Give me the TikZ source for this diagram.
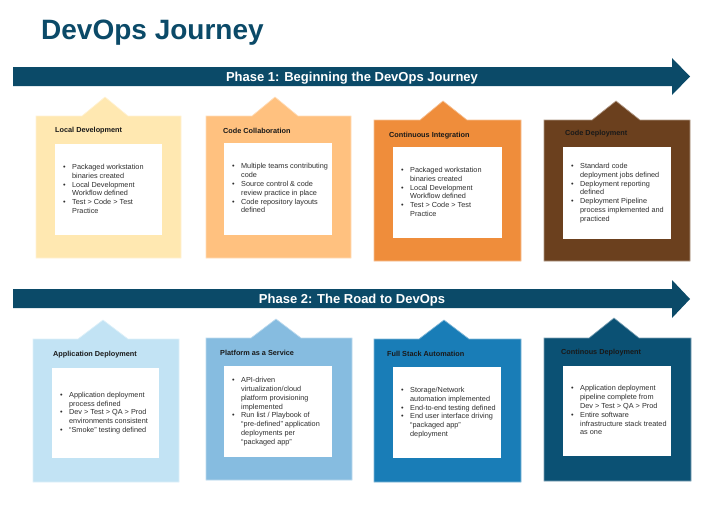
\documentclass[tikz,border=0pt]{standalone}
\usepackage{fontspec}
\setmainfont{Liberation Sans}
\definecolor{navy}{HTML}{0B4A68}
\definecolor{stA}{HTML}{FFE8B1}
\definecolor{stB}{HTML}{FFC17F}
\definecolor{stC}{HTML}{EF8D3B}
\definecolor{stD}{HTML}{6B401E}
\definecolor{stE}{HTML}{C2E3F4}
\definecolor{stF}{HTML}{86BCE0}
\definecolor{stG}{HTML}{197DB7}
\definecolor{stH}{HTML}{0B5174}
\newcommand\bl{\textbullet}
\newenvironment{blist}{\begin{tabular}{@{}l@{\hspace{6.4pt}}l@{}}}{\end{tabular}}
\begin{document}
\begin{tikzpicture}[x=1pt,y=-1pt,
  house/.style={fill=#1,draw=#1!55!white,line width=0.7pt,line join=miter},
  panel/.style={fill=white,draw=none,anchor=north west,inner sep=0pt},
  stitle/.style={anchor=west,inner sep=0pt,font=\fontsize{7.3}{8.8}\selectfont\bfseries,text=black!90},
  slist/.style={anchor=west,inner sep=0pt,xshift=8pt,font=\fontsize{7.3}{8.8}\selectfont,text=black!82},
  phase/.style={anchor=base,inner sep=0pt,font=\fontsize{13}{15}\selectfont\bfseries,text=white}]
\useasboundingbox (0,0) rectangle (709,525);

% heading
\node[anchor=base west,inner sep=0pt,font=\fontsize{28}{32}\selectfont\bfseries,text=navy] (title) at (41,39.5) {DevOps Journey};

% phase banners
\fill[navy] (13,67) -- (672,67) -- (672,58) -- (690,76.5) -- (672,95) -- (672,86) -- (13,86) -- cycle;
\node[phase] (phase1) at (352,81) {Phase 1: Beginning the DevOps Journey};
\fill[navy] (13,289) -- (672,289) -- (672,280) -- (690,299) -- (672,318) -- (672,308) -- (13,308) -- cycle;
\node[phase] (phase2) at (352,303) {Phase 2: The Road to DevOps};

% ---- phase 1 stages ----
\draw[house=stA] (36,116) -- (82,116) -- (105,97) -- (128,116) -- (181,116) -- (181,258) -- (36,258) -- cycle;
\node[panel,minimum width=107pt,minimum height=91pt] (localbody) at (55,144) {};
\node[stitle] (localtitle) at (55,131) {Local Development};
\node[slist] (locallist) at (localbody.west) {\begin{blist}
\bl & Packaged workstation\\ & binaries created\\
\bl & Local Development\\ & Workflow defined\\
\bl & Test > Code > Test\\ & Practice
\end{blist}};

\draw[house=stB] (206,116) -- (252,116) -- (275,97) -- (298,116) -- (351,116) -- (351,258) -- (206,258) -- cycle;
\node[panel,minimum width=108pt,minimum height=92pt] (collabbody) at (224,143) {};
\node[stitle] (collabtitle) at (223,131) {Code Collaboration};
\node[slist] (collablist) at (collabbody.west) {\begin{blist}
\bl & Multiple teams contributing\\ & code\\
\bl & Source control \& code\\ & review practice in place\\
\bl & Code repository layouts\\ & defined
\end{blist}};

\draw[house=stC] (374,120) -- (420,120) -- (443,101) -- (467,120) -- (521,120) -- (521,261) -- (374,261) -- cycle;
\node[panel,minimum width=109pt,minimum height=91pt] (cibody) at (393,147) {};
\node[stitle] (cititle) at (389,136) {Continuous Integration};
\node[slist] (cilist) at (cibody.west) {\begin{blist}
\bl & Packaged workstation\\ & binaries created\\
\bl & Local Development\\ & Workflow defined\\
\bl & Test > Code > Test\\ & Practice
\end{blist}};

\draw[house=stD] (544,120) -- (592,120) -- (616,101) -- (640,120) -- (690,120) -- (690,261) -- (544,261) -- cycle;
\node[panel,minimum width=108pt,minimum height=92pt] (cdbody) at (563,147) {};
\node[stitle] (cdtitle) at (565,134) {Code Deployment};
\node[slist] (cdlist) at (cdbody.west) {\begin{blist}
\bl & Standard code\\ & deployment jobs defined\\
\bl & Deployment reporting\\ & defined\\
\bl & Deployment Pipeline\\ & process implemented and\\ & practiced
\end{blist}};

% ---- phase 2 stages ----
\draw[house=stE] (33,339) -- (78,339) -- (103,320) -- (128,339) -- (179,339) -- (179,482) -- (33,482) -- cycle;
\node[panel,minimum width=107pt,minimum height=90pt] (appbody) at (52,368) {};
\node[stitle] (apptitle) at (53,355) {Application Deployment};
\node[slist] (applist) at (appbody.west) {\begin{blist}
\bl & Application deployment\\ & process defined\\
\bl & Dev > Test > QA > Prod\\ & environments consistent\\
\bl & “Smoke” testing defined
\end{blist}};

\draw[house=stF] (206,338) -- (251,338) -- (276,319) -- (301,338) -- (352,338) -- (352,480) -- (206,480) -- cycle;
\node[panel,minimum width=108pt,minimum height=91pt] (paasbody) at (224,366) {};
\node[stitle] (paastitle) at (220,353) {Platform as a Service};
\node[slist] (paaslist) at (paasbody.west) {\begin{blist}
\bl & API-driven\\ & virtualization/cloud\\ & platform provisioning\\ & implemented\\
\bl & Run list / Playbook of\\ & “pre-defined” application\\ & deployments per\\ & “packaged app”
\end{blist}};

\draw[house=stG] (374,339) -- (419,339) -- (444,320) -- (469,339) -- (521,339) -- (521,482) -- (374,482) -- cycle;
\node[panel,minimum width=108pt,minimum height=91pt] (fsabody) at (393,367) {};
\node[stitle] (fsatitle) at (387,354) {Full Stack Automation};
\node[slist] (fsalist) at (fsabody.west) {\begin{blist}
\bl & Storage/Network\\ & automation implemented\\
\bl & End-to-end testing defined\\
\bl & End user interface driving\\ & “packaged app”\\ & deployment
\end{blist}};

\draw[house=stH] (544,338) -- (589,338) -- (614,318) -- (639,338) -- (691,338) -- (691,481) -- (544,481) -- cycle;
\node[panel,minimum width=108pt,minimum height=90pt] (contbody) at (563,366) {};
\node[stitle] (conttitle) at (561,353) {Continous Deployment};
\node[slist] (contlist) at (contbody.west) {\begin{blist}
\bl & Application deployment\\ & pipeline complete from\\ & Dev > Test > QA > Prod\\
\bl & Entire software\\ & infrastructure stack treated\\ & as one
\end{blist}};
\end{tikzpicture}
\end{document}
